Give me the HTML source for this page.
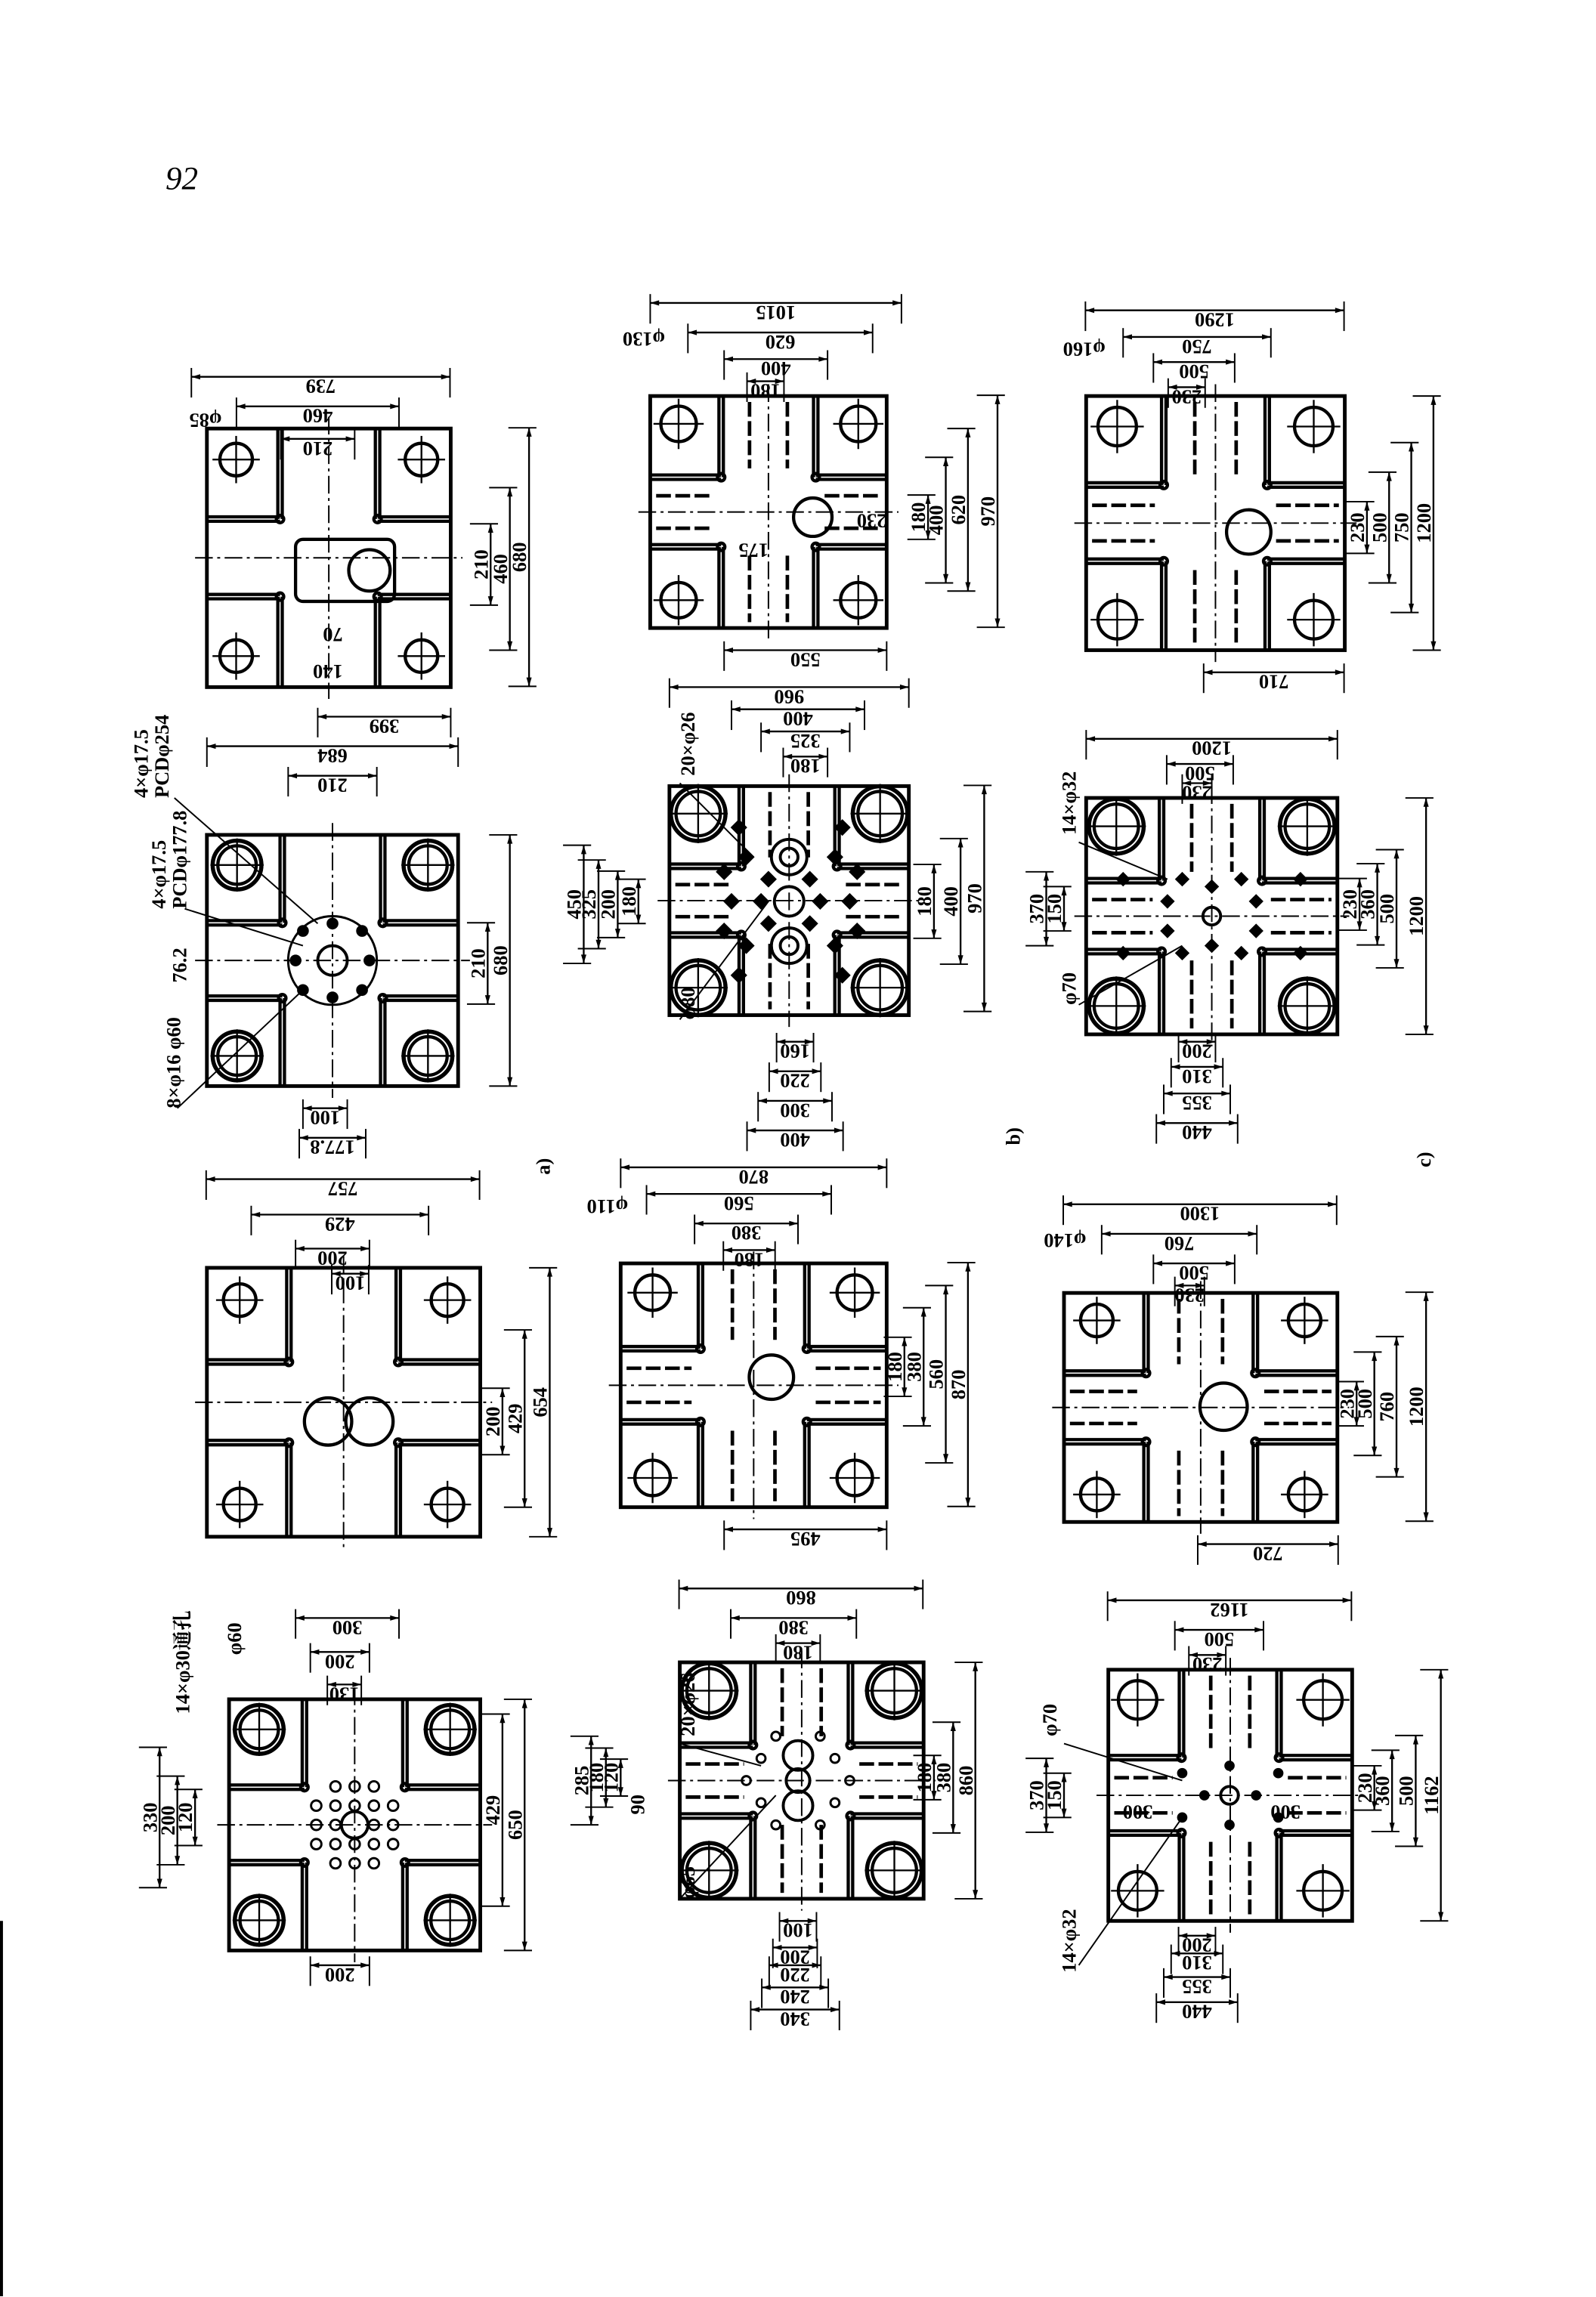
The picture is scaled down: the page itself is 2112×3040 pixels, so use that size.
<!DOCTYPE html>
<html><head><meta charset="utf-8"><style>
html,body{margin:0;padding:0;background:#fff}
svg{display:block}
text{font-family:"Liberation Serif","Noto Serif CJK SC",serif;font-size:13.5px;fill:#000;font-weight:bold}
</style></head><body>
<svg id="s" width="2112" height="3040" viewBox="0 0 1080 1554.5" xmlns="http://www.w3.org/2000/svg">
<rect width="1080" height="1555" fill="#fff"/>
<g id="g" stroke="#000" fill="none" stroke-linecap="butt"></g>
<text x="112" y="128" style="font-size:22px;font-style:italic;font-weight:normal">92</text>
<!-- a1 -->
<text class="th" x="217" y="255" w="175">739</text>
<text class="th" x="215" y="275" w="110">460</text>
<text class="th" x="215" y="297" w="50">210</text>
<text class="f" transform="translate(150,280) rotate(180)">φ85</text>
<text class="tv" x="332" y="382" w="55">210</text>
<text class="tv" x="345" y="385" w="110">460</text>
<text class="tv" x="358" y="377" w="175">680</text>
<text class="th" x="260" y="485" w="90">399</text>
<text class="f" transform="translate(232,425) rotate(180)">70</text>
<text class="f" transform="translate(232,450) rotate(180)">140</text>
<!-- a2 -->
<text class="th" x="225" y="505" w="170">684</text>
<text class="th" x="225" y="525" w="60">210</text>
<text class="tv" x="330" y="652" w="55">210</text>
<text class="tv" x="345" y="650" w="170">680</text>
<text class="th" x="220" y="750" w="30">100</text>
<text class="th" x="225" y="770" w="45">177.8</text>
<text class="f" transform="translate(100,540) rotate(-90)">4×φ17.5</text>
<text class="f" transform="translate(114,540) rotate(-90)">PCDφ254</text>
<text class="f" transform="translate(112,615) rotate(-90)">4×φ17.5</text>
<text class="f" transform="translate(126,615) rotate(-90)">PCDφ177.8</text>
<text class="f" transform="translate(126,665) rotate(-90)">76.2</text>
<text class="f" transform="translate(122,750) rotate(-90)">8×φ16 φ60</text>
<text class="f" transform="translate(372,795) rotate(-90)">a)</text>
<!-- a3 -->
<text class="th" x="232" y="798" w="185">757</text>
<text class="th" x="230" y="822" w="120">429</text>
<text class="th" x="225" y="845" w="50">200</text>
<text class="th" x="237" y="862" w="25">100</text>
<text class="tv" x="340" y="962" w="45">200</text>
<text class="tv" x="355" y="960" w="120">429</text>
<text class="tv" x="372" y="949" w="182">654</text>
<!-- a4 -->
<text class="th" x="235" y="1095" w="70">300</text>
<text class="th" x="230" y="1118" w="40">200</text>
<text class="th" x="233" y="1140" w="23">130</text>
<text class="tv" x="340" y="1225" w="130">429</text>
<text class="tv" x="355" y="1235" w="170">650</text>
<text class="tv" x="108" y="1230" w="95">330</text>
<text class="tv" x="120" y="1232" w="60">200</text>
<text class="tv" x="132" y="1230" w="38">120</text>
<text class="th" x="230" y="1330" w="40">200</text>
<text class="f" transform="translate(128,1160) rotate(-90)">14×φ30通孔</text>
<text class="f" transform="translate(163,1120) rotate(-90)">φ60</text>
<!-- b1 -->
<text class="th" x="525" y="205" w="170">1015</text>
<text class="th" x="528" y="225" w="125">620</text>
<text class="th" x="525" y="243" w="70">400</text>
<text class="th" x="518" y="258" w="25">180</text>
<text class="f" transform="translate(450,225) rotate(180)">φ130</text>
<text class="tv" x="628" y="350" w="30">180</text>
<text class="tv" x="640" y="352" w="85">400</text>
<text class="tv" x="655" y="345" w="110">620</text>
<text class="tv" x="675" y="346" w="157">970</text>
<text class="th" x="545" y="440" w="110">550</text>
<text class="f" transform="translate(600,348) rotate(180)">230</text>
<text class="f" transform="translate(520,368) rotate(180)">175</text>
<!-- b2 -->
<text class="th" x="534" y="465" w="162">960</text>
<text class="th" x="540" y="480" w="90">400</text>
<text class="th" x="545" y="495" w="60">325</text>
<text class="th" x="545" y="512" w="30">180</text>
<text class="tv" x="632" y="610" w="50">180</text>
<text class="tv" x="650" y="610" w="85">400</text>
<text class="tv" x="666" y="608" w="153">970</text>
<text class="tv" x="395" y="612" w="80">450</text>
<text class="tv" x="405" y="612" w="60">325</text>
<text class="tv" x="418" y="612" w="45">200</text>
<text class="tv" x="432" y="610" w="30">180</text>
<text class="th" x="538" y="705" w="25">160</text>
<text class="th" x="538" y="725" w="35">220</text>
<text class="th" x="538" y="745" w="50">300</text>
<text class="th" x="538" y="765" w="65">400</text>
<text class="f" transform="translate(470,525) rotate(-90)">20×φ26</text>
<text class="f" transform="translate(470,690) rotate(-90)">φ80</text>
<text class="f" transform="translate(690,775) rotate(-90)">b)</text>
<!-- b3 -->
<text class="th" x="510" y="790" w="180">870</text>
<text class="th" x="500" y="808" w="125">560</text>
<text class="th" x="505" y="828" w="70">380</text>
<text class="th" x="507" y="846" w="35">180</text>
<text class="f" transform="translate(425,812) rotate(180)">φ110</text>
<text class="tv" x="612" y="925" w="40">180</text>
<text class="tv" x="625" y="925" w="80">380</text>
<text class="tv" x="640" y="930" w="120">560</text>
<text class="tv" x="655" y="937" w="165">870</text>
<text class="th" x="545" y="1035" w="110">495</text>
<!-- b4 -->
<text class="th" x="542" y="1075" w="165">860</text>
<text class="th" x="537" y="1095" w="85">380</text>
<text class="th" x="540" y="1112" w="30">180</text>
<text class="tv" x="632" y="1203" w="30">180</text>
<text class="tv" x="645" y="1203" w="75">380</text>
<text class="tv" x="660" y="1205" w="160">860</text>
<text class="tv" x="400" y="1205" w="60">285</text>
<text class="tv" x="410" y="1203" w="40">180</text>
<text class="tv" x="420" y="1203" w="25">120</text>
<text class="f" transform="translate(436,1228) rotate(-90)">90</text>
<text class="th" x="540" y="1300" w="25">100</text>
<text class="th" x="538" y="1318" w="30">200</text>
<text class="th" x="538" y="1330" w="35">220</text>
<text class="th" x="538" y="1345" w="45">240</text>
<text class="th" x="538" y="1360" w="60">340</text>
<text class="f" transform="translate(470,1175) rotate(-90)">20×φ26</text>
<text class="f" transform="translate(470,1285) rotate(-90)">φ65</text>
<!-- c1 -->
<text class="th" x="822" y="210" w="175">1290</text>
<text class="th" x="810" y="228" w="100">750</text>
<text class="th" x="808" y="245" w="55">500</text>
<text class="th" x="803" y="262" w="25">230</text>
<text class="f" transform="translate(748,232) rotate(180)">φ160</text>
<text class="tv" x="925" y="357" w="35">230</text>
<text class="tv" x="940" y="357" w="75">500</text>
<text class="tv" x="955" y="357" w="115">750</text>
<text class="tv" x="970" y="354" w="172">1200</text>
<text class="th" x="862" y="455" w="95">710</text>
<!-- c2 -->
<text class="th" x="820" y="500" w="170">1200</text>
<text class="th" x="812" y="517" w="45">500</text>
<text class="th" x="810" y="530" w="20">230</text>
<text class="tv" x="920" y="612" w="35">230</text>
<text class="tv" x="932" y="612" w="55">360</text>
<text class="tv" x="945" y="615" w="80">500</text>
<text class="tv" x="965" y="620" w="160">1200</text>
<text class="tv" x="708" y="615" w="50">370</text>
<text class="tv" x="720" y="615" w="30">150</text>
<text class="th" x="810" y="705" w="25">200</text>
<text class="th" x="810" y="722" w="35">310</text>
<text class="th" x="810" y="740" w="45">355</text>
<text class="th" x="810" y="760" w="55">440</text>
<text class="f" transform="translate(728,565) rotate(-90)">14×φ32</text>
<text class="f" transform="translate(728,680) rotate(-90)">φ70</text>
<text class="f" transform="translate(968,790) rotate(-90)">c)</text>
<!-- c3 -->
<text class="th" x="812" y="815" w="185">1300</text>
<text class="th" x="798" y="835" w="105">760</text>
<text class="th" x="808" y="855" w="55">500</text>
<text class="th" x="805" y="870" w="20">230</text>
<text class="f" transform="translate(735,835) rotate(180)">φ140</text>
<text class="tv" x="918" y="950" w="30">230</text>
<text class="tv" x="930" y="950" w="70">500</text>
<text class="tv" x="945" y="952" w="95">760</text>
<text class="tv" x="965" y="952" w="155">1200</text>
<text class="th" x="858" y="1045" w="95">720</text>
<!-- c4 -->
<text class="th" x="832" y="1083" w="165">1162</text>
<text class="th" x="825" y="1103" w="60">500</text>
<text class="th" x="817" y="1120" w="25">230</text>
<text class="tv" x="930" y="1210" w="30">230</text>
<text class="tv" x="942" y="1212" w="55">360</text>
<text class="tv" x="958" y="1212" w="75">500</text>
<text class="tv" x="975" y="1215" w="170">1162</text>
<text class="tv" x="708" y="1215" w="50">370</text>
<text class="tv" x="720" y="1215" w="30">150</text>
<text class="th" x="810" y="1310" w="25">200</text>
<text class="th" x="810" y="1322" w="35">310</text>
<text class="th" x="810" y="1338" w="45">355</text>
<text class="th" x="810" y="1355" w="55">440</text>
<text class="f" transform="translate(715,1175) rotate(-90)">φ70</text>
<text class="f" transform="translate(728,1335) rotate(-90)">14×φ32</text>
<text class="f" transform="translate(780,1222) rotate(180)">300</text>
<text class="f" transform="translate(880,1222) rotate(180)">300</text>
</svg>
<script>
var NS="http://www.w3.org/2000/svg",G=document.getElementById('g');
function el(t,a){var e=document.createElementNS(NS,t);for(var k in a)e.setAttribute(k,a[k]);G.appendChild(e);return e;}
function L(x1,y1,x2,y2,w,d){var a={x1:x1,y1:y1,x2:x2,y2:y2,'stroke-width':w||1};if(d)a['stroke-dasharray']=d;return el('line',a);}
function C(x,y,r,w){return el('circle',{cx:x,cy:y,r:r,'stroke-width':w||1.5});}
function arrow(x,y,dx,dy){var p=x+','+y+' '+(x-dx*6-dy*1.8)+','+(y-dy*6-dx*1.8)+' '+(x-dx*6+dy*1.8)+','+(y-dy*6+dx*1.8);el('polygon',{points:p,fill:'#000','stroke-width':0});}
Array.prototype.forEach.call(document.querySelectorAll('text.th'),function(t){
 var cx=+t.getAttribute('x'),y=+t.getAttribute('y'),w=+t.getAttribute('w'),x1=cx-w/2,x2=cx+w/2;
 L(x1,y,x2,y,1.2);arrow(x1,y,-1,0);arrow(x2,y,1,0);L(x1,y-6,x1,y+14,1);L(x2,y-6,x2,y+14,1);
 t.setAttribute('x',0);t.setAttribute('y',0);t.setAttribute('text-anchor','middle');
 t.setAttribute('transform','translate('+cx+','+(y+2)+') rotate(180)');});
Array.prototype.forEach.call(document.querySelectorAll('text.tv'),function(t){
 var x=+t.getAttribute('x'),cy=+t.getAttribute('y'),w=+t.getAttribute('w'),y1=cy-w/2,y2=cy+w/2;
 L(x,y1,x,y2,1.2);arrow(x,y1,0,-1);arrow(x,y2,0,1);L(x-14,y1,x+5,y1,1);L(x-14,y2,x+5,y2,1);
 t.setAttribute('x',0);t.setAttribute('y',0);t.setAttribute('text-anchor','middle');
 t.setAttribute('transform','translate('+(x-2)+','+cy+') rotate(-90)');});
function plate(x0,y0,x1,y1,o){
 var w=x1-x0,h=y1-y0,cx=(x0+x1)/2,cy=(y0+y1)/2;
 el('rect',{x:x0,y:y0,width:w,height:h,'stroke-width':2.5});
 var hi=o.hi||0.12,r=o.r||11;
 [[x0+w*hi,y0+h*hi],[x1-w*hi,y0+h*hi],[x0+w*hi,y1-h*hi],[x1-w*hi,y1-h*hi]].forEach(function(p){
  C(p[0],p[1],r,2.2);if(o.ring){C(p[0],p[1],r+3.5,2.8);}
  L(p[0]-r-5,p[1],p[0]+r+5,p[1],1.2);L(p[0],p[1]-r-5,p[0],p[1]+r+5,1.2);});
 var sx=o.sx||0.3,sy=o.sy||0.35;
 var ax=x0+w*sx,bx=x1-w*sx,ay=y0+h*sy,by=y1-h*sy;
 [ax,bx].forEach(function(x){[[y0,ay],[by,y1]].forEach(function(s){L(x-1.5,s[0],x-1.5,s[1],2.2);L(x+1.5,s[0],x+1.5,s[1],2.2);});});
 [ay,by].forEach(function(y){[[x0,ax],[bx,x1]].forEach(function(s){L(s[0],y-1.5,s[1],y-1.5,2.2);L(s[0],y+1.5,s[1],y+1.5,2.2);});});
 [[ax,ay],[bx,ay],[ax,by],[bx,by]].forEach(function(p){C(p[0],p[1],2.5,2.2);});
 if(o.extra){
  [x0+w*0.42,x1-w*0.42].forEach(function(x){L(x,y0+4,x,ay-6,2.4,'10,3');L(x,by+6,x,y1-4,2.4,'10,3');});
  [y0+h*0.43,y1-h*0.43].forEach(function(y){L(x0+4,y,ax-6,y,2.4,'10,3');L(bx+6,y,x1-4,y,2.4,'10,3');});
 }
 L(x0-8,cy,x1+8,cy,1,'12,3,2,3');L(cx,y0-8,cx,y1+8,1,'12,3,2,3');
}
plate(140,290,305,465,{r:11});
el('rect',{x:200,y:365,width:67,height:42,rx:5,'stroke-width':2.2});C(250,386,14,2.2);
plate(140,565,310,735,{r:13,ring:1});
C(225,650,30,1.5);C(225,650,10,2);
[[205,630],[245,630],[205,670],[245,670],[200,650],[250,650],[225,625],[225,675]].forEach(function(p){el('circle',{cx:p[0],cy:p[1],r:3.5,fill:'#000'});});
plate(140,858,325,1040,{r:11});
C(222,962,16,2.2);C(250,962,16,2.2);
plate(155,1150,325,1320,{r:13,ring:1});
C(240,1235,9,2);
for(var i=-2;i<=2;i++)for(var j=-2;j<=2;j++){if(Math.abs(i)+Math.abs(j)>0&&Math.abs(i)+Math.abs(j)<4)C(240+i*13,1235+j*13,3.5,1.5);}
plate(440,268,600,425,{r:12,extra:1});C(550,350,13,2.2);
plate(453,532,615,687,{r:15,ring:1,extra:1});
C(534,580,12,2);C(534,580,6,2);C(534,610,10,2);C(534,640,12,2);C(534,640,6,2);
[[505,580],[565,580],[505,640],[565,640],[495,610],[515,610],[555,610],[575,610],[520,595],[548,595],[520,625],[548,625],[490,590],[580,590],[490,630],[580,630],[500,560],[570,560],[500,660],[570,660]].forEach(function(p){el('rect',{x:p[0]-3.5,y:p[1]-3.5,width:7,height:7,fill:'#000',transform:'rotate(45 '+p[0]+' '+p[1]+')'});});
plate(420,855,600,1020,{r:12,extra:1});C(522,932,15,2.2);
plate(460,1125,625,1285,{r:15,ring:1,extra:1});
C(540,1188,10,2);C(540,1205,8,2);C(540,1222,10,2);
[[515,1190],[565,1190],[515,1220],[565,1220],[505,1205],[575,1205],[525,1175],[555,1175],[525,1235],[555,1235]].forEach(function(p){C(p[0],p[1],3,1.5);});
plate(735,268,910,440,{r:13,extra:1});C(845,360,15,2.2);
plate(735,540,905,700,{r:15,ring:1,extra:1});C(820,620,6,2);
[[760,595],[800,595],[840,595],[880,595],[760,645],[800,645],[840,645],[880,645],[790,610],[850,610],[790,630],[850,630],[820,600],[820,640]].forEach(function(p){el('rect',{x:p[0]-3,y:p[1]-3,width:6,height:6,fill:'#000',transform:'rotate(45 '+p[0]+' '+p[1]+')'});});
plate(720,875,905,1030,{r:11,extra:1});C(828,952,16,2.2);
plate(750,1130,915,1300,{r:13,extra:1});C(832,1215,6,2);
[[800,1200],[865,1200],[800,1230],[865,1230],[815,1215],[850,1215],[832,1195],[832,1235]].forEach(function(p){el('circle',{cx:p[0],cy:p[1],r:3,fill:'#000'});});
L(118,540,215,625,1);L(125,615,205,640,1);L(120,750,205,670,1);L(460,530,510,580,1);L(460,690,520,610,1);
L(460,1180,515,1195,1);L(460,1285,525,1215,1);L(730,570,790,595,1);L(730,680,800,640,1);L(720,1180,800,1205,1);L(730,1330,800,1230,1);
L(1,1300,1,1554,2);
</script>
</body></html>
